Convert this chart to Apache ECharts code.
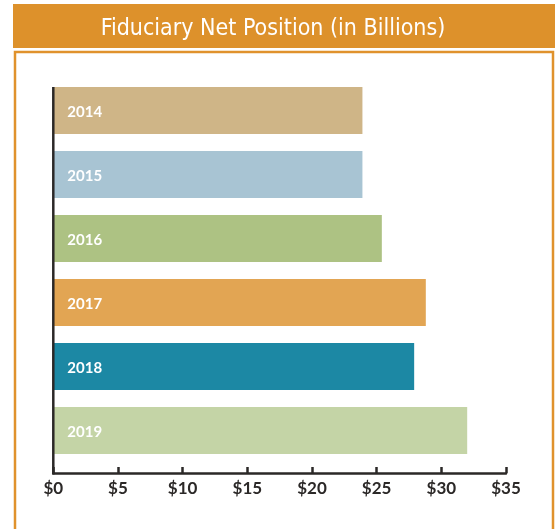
<!DOCTYPE html>
<html>
<head>
<meta charset="utf-8">
<script src="https://cdn.jsdelivr.net/npm/echarts@6/dist/echarts.min.js"></script>
<style>
  html, body { margin: 0; padding: 0; background: #fff; }
  #chartsDiv { width: 555px; height: 529px; }
</style>
</head>
<body>
<div id="chartsDiv"></div>
<script>
// values (billions of dollars)
var years = ['2014', '2015', '2016', '2017', '2018', '2019']
var netPosition = [23.9, 23.9, 25.4, 28.8, 27.9, 32.0]
var tickValues = [0, 5, 10, 15, 20, 25, 30, 35]

var barColors = ['#CFB587', '#A8C4D3', '#ADC283', '#E2A553', '#1C88A4', '#C4D4A6']
var orange = '#DD912B'

var chart = echarts.init(document.getElementById('chartsDiv'), null, {
  renderer: 'canvas'
})

var option = {
  animation: false,
  backgroundColor: '#fff',
  title: {
    text: 'Fiduciary Net Position (in Billions)',
    left: 268,
    textAlign: 'center',
    top: 13,
    z: 10,
    textStyle: {
      color: '#FFF',
      fontFamily: '"DejaVu Sans Condensed", sans-serif',
      fontSize: 23,
      fontWeight: 'normal'
    }
  },
  graphic: [
    // title band
    {
      type: 'rect',
      z: 0,
      shape: { x: 13, y: 4, width: 560, height: 44 },
      style: { fill: orange }
    },
    // framed panel
    {
      type: 'rect',
      z: 0,
      shape: { x: 15, y: 52, width: 538, height: 500 },
      style: { fill: 'none', stroke: '#E0922C', lineWidth: 2.5 }
    },
    // vertical axis rule (runs from first bar top to the x axis)
    {
      type: 'line',
      z: 5,
      shape: { x1: 53.3, y1: 87, x2: 53.3, y2: 474.5 },
      style: { stroke: '#2B2827', lineWidth: 2.5 }
    }
  ],
  grid: {
    left: 53.3,
    right: 49,
    top: 78.5,
    bottom: 66.5,
    containLabel: false
  },
  xAxis: {
    type: 'value',
    min: 0,
    max: 35,
    interval: 5,
    offset: 10.5,
    axisLine: {
      show: true,
      lineStyle: { color: '#2B2827', width: 2.5 }
    },
    axisTick: {
      show: true,
      inside: true,
      length: 6,
      lineStyle: { color: '#2B2827', width: 2.5 }
    },
    splitLine: { show: false },
    axisLabel: {
      margin: 7,
      color: '#2B2827',
      fontFamily: 'Lato, sans-serif',
      fontWeight: 'bold',
      fontSize: 17,
      formatter: function(value) {
        return tickValues.indexOf(value) > -1 ? '$' + value : ''
      }
    }
  },
  yAxis: {
    type: 'category',
    inverse: true,
    data: years,
    axisLine: { show: false },
    axisTick: { show: false },
    axisLabel: { show: false },
    splitLine: { show: false }
  },
  series: [
    {
      type: 'bar',
      barWidth: 47,
      data: netPosition.map(function(v, i) {
        return { value: v, itemStyle: { color: barColors[i] } }
      }),
      label: {
        show: true,
        position: 'insideLeft',
        distance: 14,
        offset: [0, 2],
        formatter: '{b}',
        color: '#FFF',
        fontFamily: 'Lato, sans-serif',
        fontSize: 15,
        fontWeight: 'bold'
      }
    }
  ]
}

chart.setOption(option)
</script>
</body>
</html>
